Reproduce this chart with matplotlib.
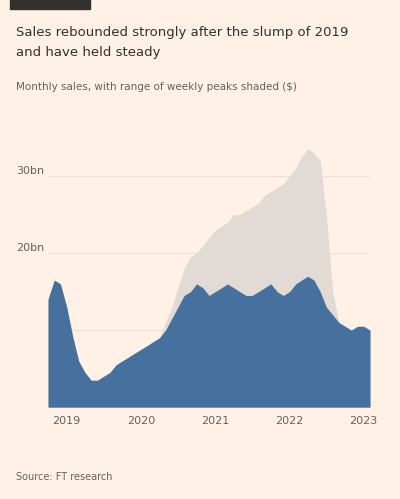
import pandas as pd
import matplotlib
matplotlib.use("Agg")
import matplotlib.pyplot as plt
from matplotlib.patches import Rectangle

# Monthly values
months = pd.date_range("2018-10-01", periods=53, freq="MS")
main_vals = [14, 16.5, 16, 13, 9, 6, 4.5, 3.5, 3.5, 4, 4.5, 5.5, 6, 6.5, 7, 7.5,
             8, 8.5, 9, 10, 11.5, 13, 14.5, 15, 16, 15.5, 14.5, 15, 15.5, 16,
             15.5, 15, 14.5, 14.5, 15, 15.5, 16, 15, 14.5, 15, 16, 16.5, 17,
             16.5, 15, 13, 12, 11, 10.5, 10, 10.5, 10.5, 10]
peak_vals = [14, 16.5, 16, 13, 9, 6, 4.5, 3.5, 3.5, 4, 4.5, 5.5, 6, 6.5, 7, 7.5,
             8, 8.5, 9, 11, 13, 15.5, 18, 19.5, 20, 21, 22, 23, 23.5, 24,
             25, 25, 25.5, 26, 26.5, 27.5, 28, 28.5, 29, 30, 31, 32.5, 33.5,
             33, 32, 25, 15, 11, 10.5, 10, 10.5, 10.5, 10]
y_ticks = [0, 10, 20, 30]
y_labels = {20: "20bn", 30: "30bn"}
x_labels = ["2019", "2020", "2021", "2022", "2023"]

bg = "#fff1e5"
blue = "#46709d"

fig = plt.figure(figsize=(4, 4.99), dpi=100, facecolor=bg)
ax = fig.add_axes([0.12, 0.184, 0.805, 0.525], facecolor=bg)

ax.fill_between(months, 0, peak_vals, color="#e2dad5", lw=0, zorder=2)
ax.fill_between(months, 0, main_vals, color=blue, lw=0, zorder=3)

ax.set_ylim(0, 34)
ax.set_xlim(months[0], months[-1])
ax.set_yticks(y_ticks)
ax.set_yticklabels([])
ax.tick_params(axis="y", length=0)
ax.grid(axis="y", color="#ece0d5", lw=0.8, zorder=1)
for v, lab in y_labels.items():
    ax.text(-0.1, v, lab, transform=ax.get_yaxis_transform(), ha="left",
            va="bottom", fontsize=8, color="#66605c")

xt = pd.to_datetime([f"{y}-01-01" for y in x_labels])
ax.set_xticks(xt)
ax.set_xticklabels(x_labels, fontsize=8, color="#66605c")
ax.tick_params(axis="x", length=0, pad=6)
for s in ax.spines.values():
    s.set_visible(False)

# header
fig.patches.append(Rectangle((0.025, 0.982), 0.2, 0.018, transform=fig.transFigure,
                             color="#33302e", zorder=5))
fig.text(0.04, 0.947, "Sales rebounded strongly after the slump of 2019",
         fontsize=9.5, color="#33302e", va="top")
fig.text(0.04, 0.907, "and have held steady", fontsize=9.5,
         color="#33302e", va="top")
fig.text(0.04, 0.835, "Monthly sales, with range of weekly peaks shaded ($)",
         fontsize=7.5, color="#66605c", va="top")
fig.text(0.04, 0.055, "Source: FT research", fontsize=7, color="#66605c",
         va="top")

fig.savefig("out.png", facecolor=bg)
